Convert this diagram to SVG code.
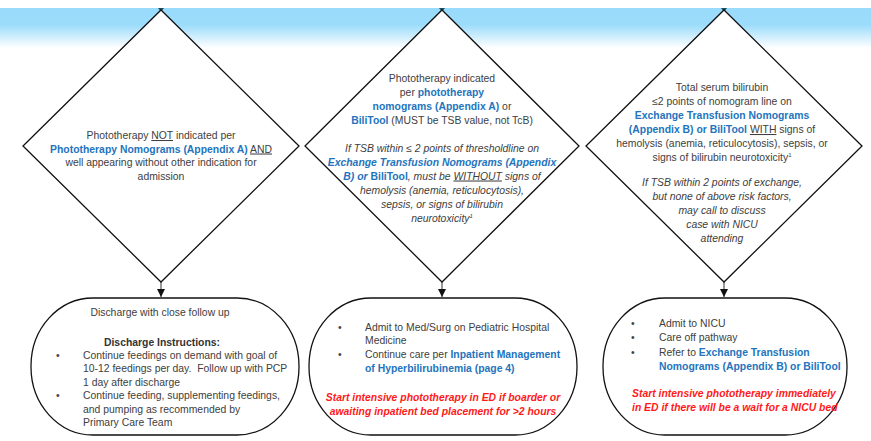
<svg xmlns="http://www.w3.org/2000/svg" width="871" height="441" viewBox="0 0 871 441">
<defs>
<linearGradient id="band" x1="0" y1="0" x2="0" y2="1">
<stop offset="0" stop-color="#99dbfc"/>
<stop offset="0.42" stop-color="#9cdcfb"/>
<stop offset="1" stop-color="#ffffff"/>
</linearGradient>
<marker id="arr" viewBox="0 0 10 10" refX="10" refY="5" markerWidth="8" markerHeight="8" markerUnits="userSpaceOnUse" orient="auto">
<path d="M0,0 L10,5 L0,10 Z" fill="#111"/>
</marker>
<style>
.shape{fill:#fff;stroke:#111;stroke-width:1.3}
.t{font-family:"Liberation Sans",Arial,sans-serif;font-size:10.4px;fill:#404040}
.c{text-anchor:middle}
.b{font-weight:bold;fill:#2474bd}
.i{font-style:italic}
.u{text-decoration:underline}
.r{font-family:"Liberation Sans",Arial,sans-serif;font-size:10.4px;fill:#ff1a1a;font-weight:bold;font-style:italic}
.k{font-weight:bold;fill:#333}
.top{fill:#1f4e5f}
.conn{stroke:#333;stroke-width:1;fill:none}
</style>
</defs>
<rect x="0" y="0" width="871" height="441" fill="#fff"/>
<rect x="0" y="8" width="871" height="40" fill="url(#band)"/>

<g id="connectors">
<polygon class="top" points="158,8 164,8 161,12"/>
<polygon class="top" points="439,8 445,8 442,12"/>
<polygon class="top" points="721,8 727,8 724,12"/>
<line class="conn" x1="161" y1="282" x2="161" y2="297" marker-end="url(#arr)"/>
<line class="conn" x1="442" y1="282" x2="442" y2="297" marker-end="url(#arr)"/>
<line class="conn" x1="724" y1="282" x2="724" y2="297" marker-end="url(#arr)"/>
</g>

<g id="d1">
<polygon class="shape" points="161,10 299,146 161,282 23,146"/>
<text class="t c" x="161" y="139">Phototherapy <tspan class="u">NOT</tspan> indicated per</text>
<text class="t c" x="161" y="152.5"><tspan class="b">Phototherapy Nomograms (Appendix A)</tspan> <tspan class="u">AND</tspan></text>
<text class="t c" x="161" y="166">well appearing without other indication for</text>
<text class="t c" x="161" y="179.5">admission</text>
</g>

<g id="d2">
<polygon class="shape" points="442,10 579,146 442,282 305,146"/>
<text class="t c" x="442" y="82">Phototherapy indicated</text>
<text class="t c" x="442" y="96">per <tspan class="b">phototherapy</tspan></text>
<text class="t c" x="442" y="110"><tspan class="b">nomograms (Appendix A)</tspan> or</text>
<text class="t c" x="442" y="124"><tspan class="b">BiliTool</tspan> (MUST be TSB value, not TcB)</text>
<text class="t c i" x="442" y="152">If TSB within ≤ 2 points of thresholdline on</text>
<text class="t c i b" x="442" y="166">Exchange Transfusion Nomograms (Appendix</text>
<text class="t c i" x="442" y="179.5"><tspan class="b">B) or </tspan><tspan class="b" font-style="normal">BiliTool</tspan>, must be <tspan class="u">WITHOUT</tspan> signs of</text>
<text class="t c i" x="442" y="194">hemolysis (anemia, reticulocytosis),</text>
<text class="t c i" x="442" y="208">sepsis, or signs of bilirubin</text>
<text class="t c i" x="442" y="221.5">neurotoxicity<tspan font-size="6" dy="-4">1</tspan></text>
</g>

<g id="d3">
<polygon class="shape" points="724,10 862,146 724,282 586,146"/>
<text class="t c" x="722" y="91">Total serum bilirubin</text>
<text class="t c" x="722" y="105">≤2 points of nomogram line on</text>
<text class="t c b" x="722" y="119">Exchange Transfusion Nomograms</text>
<text class="t c" x="722" y="133"><tspan class="b">(Appendix B) or BiliTool</tspan> <tspan class="u">WITH</tspan> signs of</text>
<text class="t c" x="722" y="147">hemolysis (anemia, reticulocytosis), sepsis, or</text>
<text class="t c" x="722" y="161">signs of bilirubin neurotoxicity<tspan font-size="6" dy="-4">1</tspan></text>
<text class="t c i" x="722" y="186">If TSB within 2 points of exchange,</text>
<text class="t c i" x="722" y="200">but none of above risk factors,</text>
<text class="t c i" x="722" y="214">may call to discuss</text>
<text class="t c i" x="722" y="228">case with NICU</text>
<text class="t c i" x="722" y="241.5">attending</text>
</g>

<g id="b1">
<rect class="shape" x="31" y="298" width="268" height="137" rx="62" ry="68"/>
<text class="t c" x="160" y="316">Discharge with close follow up</text>
<text class="t c k" x="162" y="345.5">Discharge Instructions:</text>
<text class="t" x="56" y="358.5">•</text>
<text class="t" x="83" y="358.5">Continue feedings on demand with goal of</text>
<text class="t" x="83" y="372">10-12 feedings per day.&#160; Follow up with PCP</text>
<text class="t" x="83" y="385.5">1 day after discharge</text>
<text class="t" x="56" y="399">•</text>
<text class="t" x="83" y="399">Continue feeding, supplementing feedings,</text>
<text class="t" x="83" y="412.5">and pumping as recommended by</text>
<text class="t" x="83" y="426">Primary Care Team</text>
</g>

<g id="b2">
<rect class="shape" x="309" y="298" width="268" height="137" rx="62" ry="68"/>
<text class="t" x="338" y="330.5">•</text>
<text class="t" x="365" y="330.5">Admit to Med/Surg on Pediatric Hospital</text>
<text class="t" x="365" y="344">Medicine</text>
<text class="t" x="338" y="358">•</text>
<text class="t" x="365" y="358">Continue care per <tspan class="b">Inpatient Management</tspan></text>
<text class="t b" x="365" y="372">of Hyperbilirubinemia (page 4)</text>
<text class="r c" x="443" y="401">Start intensive phototherapy in ED if boarder or</text>
<text class="r c" x="443" y="414.5">awaiting inpatient bed placement for &gt;2 hours</text>
</g>

<g id="b3">
<rect class="shape" x="603" y="298" width="244" height="137" rx="62" ry="68"/>
<text class="t" x="631" y="326.5">•</text>
<text class="t" x="659" y="326.5">Admit to NICU</text>
<text class="t" x="631" y="341">•</text>
<text class="t" x="659" y="341">Care off pathway</text>
<text class="t" x="631" y="355.5">•</text>
<text class="t" x="659" y="355.5">Refer to <tspan class="b">Exchange Transfusion</tspan></text>
<text class="t b" x="659" y="369.5">Nomograms (Appendix B) or BiliTool</text>
<text class="r" x="632" y="397">Start intensive phototherapy immediately</text>
<text class="r" x="632" y="411">in ED if there will be a wait for a NICU bed</text>
</g>
</svg>
